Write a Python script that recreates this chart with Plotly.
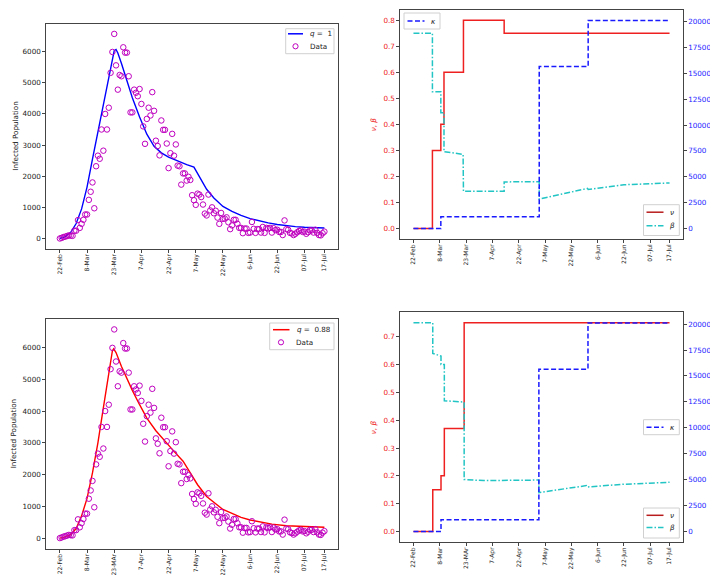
import plotly.graph_objects as go

# ---------------- data ----------------
tick_days = [0, 15, 30, 45, 60, 75, 90, 105, 120, 135, 146]
tick_text_a = ["22-Feb", "8-Mar", "23-Mar", "7-Apr", "22-Apr", "7-May", "22-May", "6-Jun", "22-Jun", "07-Jul", "17-Jul"]
tick_text_b = ["22-Feb", "8-Mar", "23-MAr", "7-Apr", "22-Apr", "7-May", "22-May", "6-Jun", "22-Jun", "07-Jul", "17-Jul"]

infected = [0, 20, 45, 60, 80, 100, 90, 85, 250, 250,
            590, 340, 470, 600, 770, 770, 1240, 1500, 1800, 970,
            2320, 2660, 2560, 3500, 2820, 4000, 3500, 4200, 5320, 5990,
            6570, 5560, 4780, 5250, 5210, 6140, 5970, 5970, 5210, 4050,
            4050, 4780, 4680, 4570, 4800, 4320, 3600, 3040, 3840, 4200,
            3950, 4700, 4100, 3140, 2970, 2670, 3790, 3490, 3490, 3050,
            2260, 2740, 3360, 2660, 3020, 2340, 2320, 1730, 2090, 2090,
            1860, 1980, 1880, 1390, 1230, 1080, 1440, 1410, 1330, 1090,
            800, 740, 1410, 900, 1000, 810, 890, 670, 470, 820,
            630, 640, 680, 520, 300, 420, 600, 600, 470, 340,
            340, 170, 320, 320, 180, 190, 530, 310, 180, 300,
            300, 190, 370, 180, 340, 320, 340, 190, 330, 270,
            280, 210, 210, 110, 580, 300, 280, 180, 160, 110,
            150, 200, 240, 260, 210, 220, 150, 200, 260, 260,
            190, 280, 180, 110, 100, 170, 220]
data_days = list(range(len(infected)))

fit1_days = [0, 3, 6, 9, 12, 15, 18, 21, 24, 27, 29, 30, 31, 32, 34, 37, 40, 44, 48, 52, 56, 60, 65, 70, 74,
             77, 81, 85, 90, 95, 100, 105, 110, 115, 120, 125, 130, 135, 140, 146]
fit1_vals = [0, 60, 200, 480, 950, 1650, 2550, 3450, 4300, 5150, 5800, 6030, 6070, 5960, 5620, 5060, 4520, 3900,
             3350, 2960, 2750, 2610, 2480, 2370, 2290, 2000, 1580, 1300, 1030, 870, 740, 640, 560, 500, 450,
             410, 380, 360, 345, 335]

fit2_days = [0, 3, 6, 9, 12, 15, 18, 21, 24, 27, 29, 29.7, 31, 34, 37, 40, 44, 48, 53, 58, 63, 68, 73, 76,
             81, 85, 90, 95, 100, 105, 110, 117, 125, 135, 146]
fit2_vals = [0, 40, 110, 300, 700, 1250, 2050, 3000, 4100, 5200, 5900, 5960, 5840, 5400, 5020, 4650, 4200,
             3780, 3380, 3040, 2730, 2420, 1960, 1680, 1310, 1120, 900, 780, 650, 570, 510, 440, 390, 360, 340]

# top-right controls
nu_a_days = [0, 10.8, 15.6, 17.4, 28.5, 51.7, 146]
nu_a_vals = [0, 0.30, 0.40, 0.60, 0.80, 0.75, 0.75]
kap_a_days = [0, 15.6, 71.7, 99.6, 146]
kap_a_vals = [0, 1130, 15650, 20100, 20100]
beta_a_days = [0, 10.8, 10.8, 15.6, 15.6, 17.4, 17.4, 28.3, 28.5, 51.7, 51.7, 71.7, 71.7, 89.7, 99.2, 99.6, 120, 146]
beta_a_vals = [0.75, 0.75, 0.525, 0.525, 0.445, 0.445, 0.295, 0.285, 0.143, 0.143, 0.179, 0.180, 0.113, 0.141,
               0.154, 0.150, 0.168, 0.175]

# bottom-right controls
nu_b_days = [0, 11.0, 15.7, 17.6, 28.9, 146]
nu_b_vals = [0, 0.15, 0.20, 0.37, 0.75, 0.75]
kap_b_days = [0, 15.7, 71.5, 99.5, 146]
kap_b_vals = [0, 1150, 15650, 20100, 20100]
beta_b_days = [0, 11.0, 11.0, 15.7, 15.7, 17.6, 17.6, 28.9, 28.9, 40, 71.5, 71.5, 98.5, 98.9, 120, 146]
beta_b_vals = [0.75, 0.75, 0.64, 0.63, 0.60, 0.60, 0.47, 0.465, 0.187, 0.183, 0.185, 0.14, 0.165, 0.160,
               0.170, 0.177]

# ---------------- styling ----------------
FONT = "DejaVu Sans"
FSX = 6.0
FSY = 7.2
RED = "#ee2020"
DARKRED = "#b81c1c"
BLUE = "#1a1aff"
CYAN = "#22c4c4"
MAG = "#bf00bf"
FRAME = "#444444"
XR = [-7.5, 153.5]
DASH_K = "5px,2.5px"
DASH_B = "6px,2px,1.5px,2px"
W, H = 718, 575

fig = go.Figure()

fig.add_trace(go.Scatter(x=fit1_days, y=fit1_vals, mode="lines", line=dict(color="#0000ff", width=1.4),
                         xaxis="x", yaxis="y", showlegend=False))
fig.add_trace(go.Scatter(x=data_days, y=infected, mode="markers",
                         marker=dict(symbol="circle-open", size=5.5, color=MAG, line=dict(width=1)),
                         xaxis="x", yaxis="y", showlegend=False))
fig.add_trace(go.Scatter(x=fit2_days, y=fit2_vals, mode="lines", line=dict(color="#ff0000", width=1.4),
                         xaxis="x3", yaxis="y4", showlegend=False))
fig.add_trace(go.Scatter(x=data_days, y=infected, mode="markers",
                         marker=dict(symbol="circle-open", size=5.5, color=MAG, line=dict(width=1)),
                         xaxis="x3", yaxis="y4", showlegend=False))

fig.add_trace(go.Scatter(x=nu_a_days, y=nu_a_vals, mode="lines", line_shape="hv",
                         line=dict(color=RED, width=1.5), xaxis="x2", yaxis="y2", showlegend=False))
fig.add_trace(go.Scatter(x=beta_a_days, y=beta_a_vals, mode="lines",
                         line=dict(color=CYAN, width=1.5, dash=DASH_B), xaxis="x2", yaxis="y2", showlegend=False))
fig.add_trace(go.Scatter(x=kap_a_days, y=kap_a_vals, mode="lines", line_shape="hv",
                         line=dict(color=BLUE, width=1.5, dash=DASH_K), xaxis="x2", yaxis="y3", showlegend=False))

fig.add_trace(go.Scatter(x=nu_b_days, y=nu_b_vals, mode="lines", line_shape="hv",
                         line=dict(color=RED, width=1.5), xaxis="x4", yaxis="y5", showlegend=False))
fig.add_trace(go.Scatter(x=beta_b_days, y=beta_b_vals, mode="lines",
                         line=dict(color=CYAN, width=1.5, dash=DASH_B), xaxis="x4", yaxis="y5", showlegend=False))
fig.add_trace(go.Scatter(x=kap_b_days, y=kap_b_vals, mode="lines", line_shape="hv",
                         line=dict(color=BLUE, width=1.5, dash=DASH_K), xaxis="x4", yaxis="y6", showlegend=False))


def xax(domain, anchor, ticktext):
    return dict(domain=domain, anchor=anchor, range=XR, tickmode="array", tickvals=tick_days,
                ticktext=ticktext, tickangle=-90, showgrid=False, zeroline=False, showline=True,
                mirror=True, linecolor=FRAME, linewidth=1, ticks="outside", ticklen=3,
                tickcolor=FRAME, tickfont=dict(size=FSX, color="#222"), ticklabelstandoff=-1)


def yax(domain, anchor, rng, dtick, color="#222", side="left", overlaying=None, fmt=None, mirror=True):
    d = dict(domain=domain, anchor=anchor, range=rng, dtick=dtick, side=side, showgrid=False,
             zeroline=False, showline=True, mirror=mirror, linecolor=FRAME, linewidth=1,
             ticks="outside", ticklen=3, tickcolor=FRAME, tickfont=dict(size=FSY, color=color))
    if overlaying:
        d["overlaying"] = overlaying
    if fmt:
        d["tickformat"] = fmt
    return d


TLx, TLy = [0.0533, 0.4596], [0.5814, 0.9727]
TRx, TRy = [0.5464, 0.9397], [0.5983, 0.9970]
BLx, BLy = [0.0533, 0.4596], [0.0600, 0.4591]
BRx, BRy = [0.5464, 0.9397], [0.0713, 0.4708]

fig.update_layout(
    width=W, height=H, margin=dict(l=0, r=0, t=0, b=0),
    paper_bgcolor="white", plot_bgcolor="white",
    font=dict(family=FONT, size=FSY, color="#222"),
    showlegend=False,
    xaxis=xax(TLx, "y", tick_text_a),
    yaxis=yax(TLy, "x", [-328, 6898], 1000),
    xaxis2=xax(TRx, "y2", tick_text_a),
    yaxis2=yax(TRy, "x2", [-0.04, 0.84], 0.1, color=RED, fmt=".1f", mirror=False),
    yaxis3=yax(TRy, "x2", [-1006, 21136], 2500, color=BLUE, side="right", overlaying="y2", fmt="d", mirror=False),
    xaxis3=xax(BLx, "y4", tick_text_b),
    yaxis4=yax(BLy, "x3", [-328, 6898], 1000),
    xaxis4=xax(BRx, "y5", tick_text_b),
    yaxis5=yax(BRy, "x4", [-0.0375, 0.7875], 0.1, color=RED, fmt=".1f", mirror=False),
    yaxis6=yax(BRy, "x4", [-1006, 21136], 2500, color=BLUE, side="right", overlaying="y5", fmt="d", mirror=False),
)

# axis titles
ann = [
    dict(text="Infected Population", x=7.5, y=(TLy[0] + TLy[1]) / 2, color="#222"),
    dict(text="Infected Population", x=5.5, y=(BLy[0] + BLy[1]) / 2, color="#222"),
    dict(text="<i>ν</i>, <i>β</i>", x=365, y=(TRy[0] + TRy[1]) / 2, color=RED),
    dict(text="<i>κ</i>", x=706, y=(TRy[0] + TRy[1]) / 2, color=BLUE),
    dict(text="<i>ν</i>, <i>β</i>", x=365, y=(BRy[0] + BRy[1]) / 2, color=RED),
    dict(text="<i>κ</i>", x=706, y=(BRy[0] + BRy[1]) / 2, color=BLUE),
]
for a in ann:
    fig.add_annotation(text=a["text"], x=a["x"] / W, y=a["y"], xref="paper", yref="paper",
                       textangle=-90, showarrow=False, xanchor="center", yanchor="middle", borderpad=0,
                       font=dict(family=FONT, size=FSY, color=a["color"]))


# ---------------- legends (drawn in pixel positions of the figure) ----------------
def px(x):
    return x / W


def py(y):
    return 1 - y / H


def legend_box(x0, y0, x1, y1):
    fig.add_shape(type="rect", xref="paper", yref="paper", x0=px(x0), x1=px(x1), y0=py(y1), y1=py(y0),
                  line=dict(color="#d0d0d0", width=1), fillcolor="rgba(255,255,255,0.85)", layer="above")


def legend_line(x0, x1, y, color, dash="solid"):
    fig.add_shape(type="line", xref="paper", yref="paper", x0=px(x0), x1=px(x1), y0=py(y), y1=py(y),
                  line=dict(color=color, width=1.5, dash=dash), layer="above")


def legend_marker(x, y, color):
    r = 2.6
    fig.add_shape(type="circle", xref="paper", yref="paper", x0=px(x - r), x1=px(x + r), y0=py(y + r),
                  y1=py(y - r), line=dict(color=color, width=1), layer="above")


def legend_text(x, y, text):
    fig.add_annotation(text=text, x=px(x), y=py(y), xref="paper", yref="paper", showarrow=False,
                       xanchor="left", yanchor="middle", font=dict(family=FONT, size=FSY, color="#222"))


# top-left
legend_box(277.7, 20.7, 326, 45.7)
legend_line(280, 295, 25.8, "#0000ff")
legend_text(300, 25.8, "<i>q</i> =  1")
legend_marker(287.5, 38.3, MAG)
legend_text(300, 38.3, "Data")

# bottom-left
legend_box(261.7, 315, 326, 341.7)
legend_line(265, 281.5, 321.7, "#ff0000")
legend_text(286.5, 321.7, "<i>q</i> =  0.88")
legend_marker(273, 334.3, MAG)
legend_text(285.5, 334.3, "Data")

# top-right
legend_box(396, 5, 432, 21)
legend_line(399.5, 416.5, 13, BLUE, DASH_K)
legend_text(421, 13, "<i>κ</i>")
legend_box(635.5, 196.7, 671.3, 227.5)
legend_line(638.5, 655.5, 204.2, DARKRED)
legend_text(660, 204.2, "<i>ν</i>")
legend_line(638.5, 655.5, 217.7, CYAN, DASH_B)
legend_text(660, 217.7, "<i>β</i>")

# bottom-right
legend_box(635.5, 411.7, 671.3, 426.7)
legend_line(638.5, 655.5, 419.3, BLUE, DASH_K)
legend_text(660, 419.3, "<i>κ</i>")
legend_box(635.5, 500, 671.3, 530)
legend_line(638.5, 655.5, 507.3, DARKRED)
legend_text(660, 507.3, "<i>ν</i>")
legend_line(638.5, 655.5, 519.5, CYAN, DASH_B)
legend_text(660, 519.5, "<i>β</i>")

fig.write_html("out.html")
